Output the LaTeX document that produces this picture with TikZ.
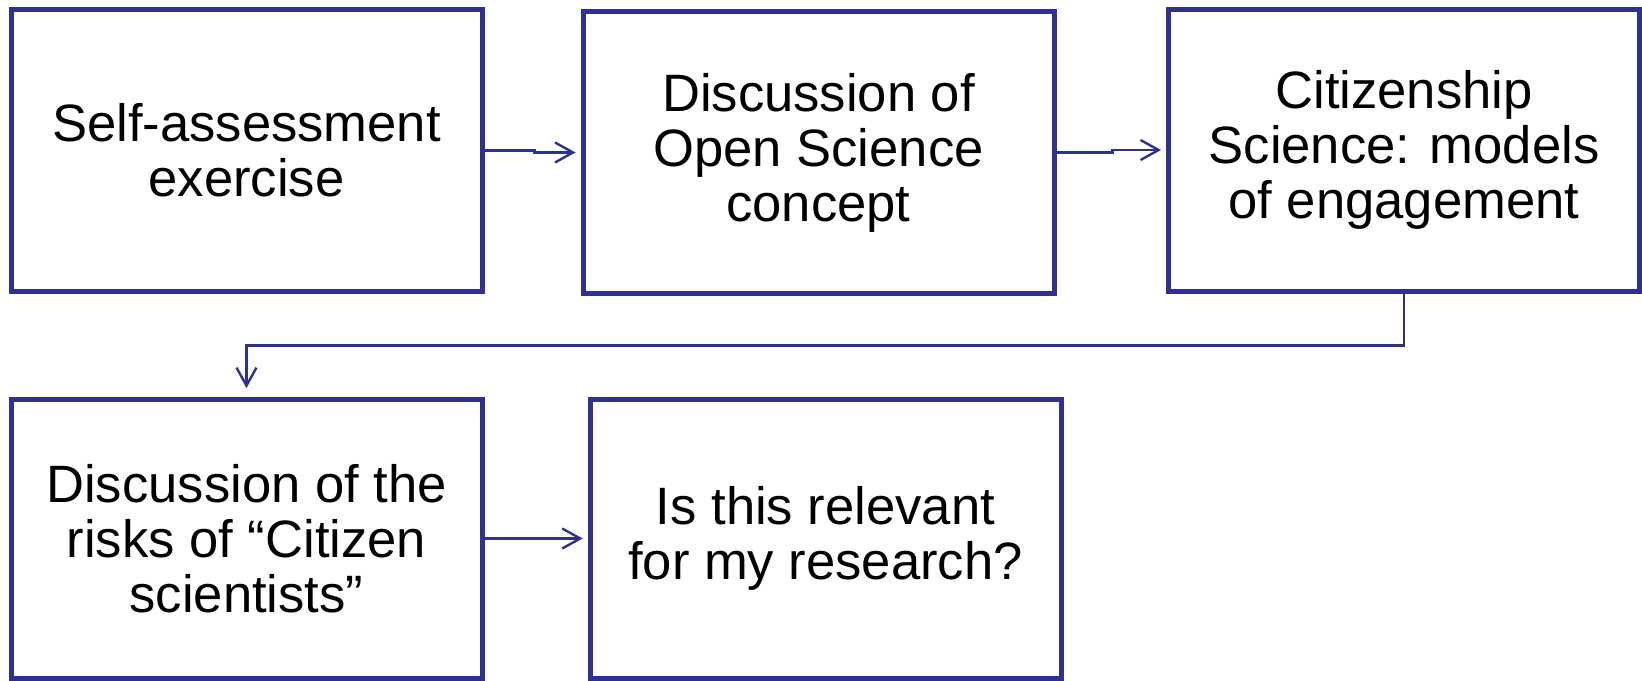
\documentclass[tikz,border=0pt]{standalone}
\usepackage{fontspec}
\setmainfont{Liberation Sans}
\usepackage{tikz}
\usetikzlibrary{arrows.meta}
\definecolor{boxblue}{RGB}{46,49,146}

\begin{document}
\begin{tikzpicture}[x=0.5pt, y=-0.5pt,
    box/.style={draw=boxblue, line width=2.5pt, fill=white, align=center,
        minimum width=235.5pt, minimum height=141pt, inner sep=0pt,
        font=\fontsize{26.3}{27.5}\selectfont},
    flow/.style={draw=boxblue, line width=1.2pt, -{Straight Barb[length=9pt,width=10pt]}}]
\useasboundingbox (0,0) rectangle (1642,680);
\node[box] (b1) at (246.5, 150.5) {Self-assessment\\exercise};
\node[box] (b2) at (818.5, 152.5) {Discussion of\\Open Science\\concept};
\node[box] (b3) at (1404, 150) {Citizenship\\Science: models\\of engagement};
\node[box, minimum height=139.5pt] (b4) at (246.5, 538.5) {Discussion of the\\risks of “Citizen\\scientists”};
\node[box, minimum height=139.5pt] (b5) at (825.5, 538.5) {Is this relevant\\for my research?};
\draw[flow, shorten >=2.5pt] (b1.east) -- ++(25pt,0) |- (b2.west);
\draw[flow, shorten >=2.5pt] (b2.east) -- ++(28pt,0) |- (b3.west);
\draw[flow, shorten >=4.2pt] (b3.south) -- ++(0,-26pt) -| (b4.north);
\draw[flow, shorten >=2.4pt] (b4.east) -- (b5.west);
\end{tikzpicture}
\end{document}
